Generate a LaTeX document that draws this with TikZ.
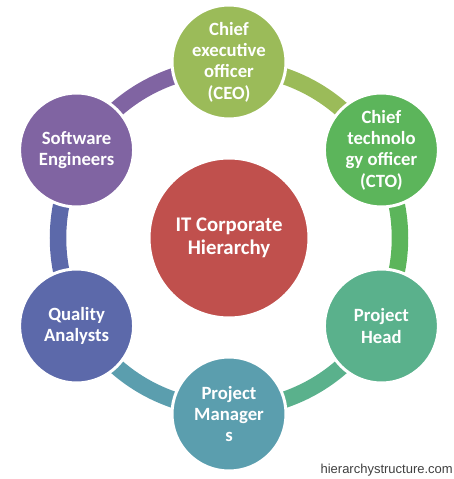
\documentclass[tikz,border=0pt]{standalone}
\usepackage{fontspec}
\setmainfont{Carlito}
\newfontfamily\sitefont{Liberation Sans}
\usetikzlibrary{positioning}
\definecolor{ceogreen}{HTML}{9BBB59}
\definecolor{ctogreen}{HTML}{5CB55B}
\definecolor{headteal}{HTML}{5AB18C}
\definecolor{pmteal}{HTML}{5B9EAE}
\definecolor{qablue}{HTML}{5C69AA}
\definecolor{sepurple}{HTML}{8064A2}
\definecolor{hubred}{HTML}{C0504D}
\definecolor{sitegray}{HTML}{404040}

\begin{document}
\begin{tikzpicture}[x=1pt, y=1pt,
      every node/.style={font=\bfseries\fontsize{18.7}{21.3}\selectfont},
      role/.style={circle, draw=white, line width=3pt, text=white, align=center,
                   minimum size=114pt, inner sep=0pt},
      hub/.style={role, minimum size=160pt, fill=hubred,
                  font=\bfseries\fontsize{20.8}{22.5}\selectfont},
      seg/.style={line width=16.5pt}
    ]
    \useasboundingbox (-229,-241) rectangle (225,238);

    \node[hub] (hub) at (0,0) {IT Corporate\\Hierarchy};

    % ring pieces, one colour per gap
    \draw[seg, draw=ceogreen] (hub.center) ++(90:171)  arc[start angle=90,  end angle=30,   radius=171];
    \draw[seg, draw=ctogreen] (hub.center) ++(30:171)  arc[start angle=30,  end angle=-30,  radius=171];
    \draw[seg, draw=headteal] (hub.center) ++(-30:171) arc[start angle=-30, end angle=-90,  radius=171];
    \draw[seg, draw=pmteal]   (hub.center) ++(-90:171) arc[start angle=-90, end angle=-150, radius=171];
    \draw[seg, draw=qablue]   (hub.center) ++(210:171) arc[start angle=210, end angle=150,  radius=171];
    \draw[seg, draw=sepurple] (hub.center) ++(150:171) arc[start angle=150, end angle=90,   radius=171];

    \node[role, fill=ceogreen] (ceo)  at (90:176)  {Chief\\executive\\officer\\(CEO)};
    \node[role, fill=ctogreen] (cto)  at (30:176)  {Chief\\technolo\\gy officer\\(CTO)};
    \node[role, fill=headteal] (head) at (-30:176) {Project\\Head};
    \node[role, fill=pmteal]   (pm)   at (-90:176) {Project\\Manager\\s};
    \node[role, fill=qablue]   (qa)   at (210:176) {Quality\\Analysts};
    \node[role, fill=sepurple] (se)   at (150:176) {Software\\Engineers};

    \node[anchor=east, inner sep=0pt, text=sitegray, font=\sitefont\fontsize{13}{15}\selectfont]
      (site) at (224,-232) {hierarchystructure.com};
  \end{tikzpicture}
\end{document}
